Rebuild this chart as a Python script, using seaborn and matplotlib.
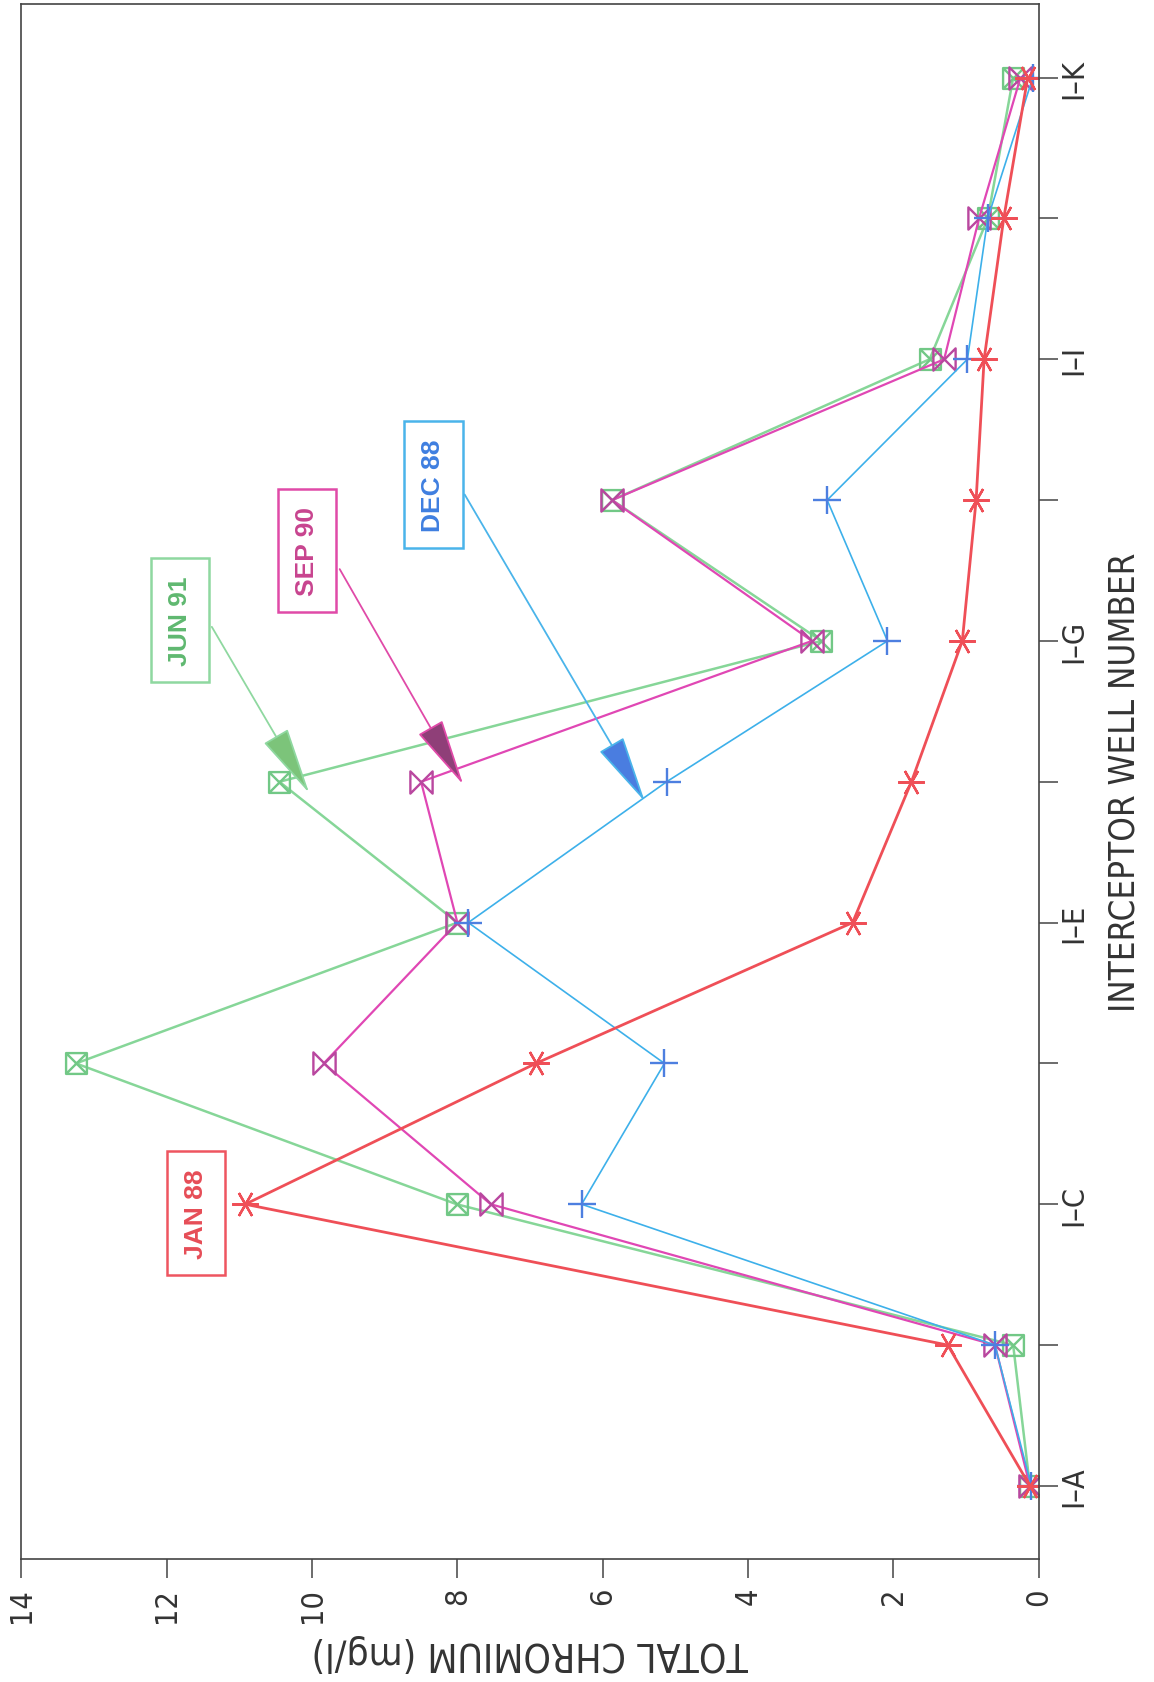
import numpy as np
import pandas as pd
import matplotlib
matplotlib.use("Agg")
import matplotlib.pyplot as plt
import seaborn as sns
from matplotlib.path import Path
from matplotlib import font_manager

# well positions along the interceptor line
wells = ["I-A", "I-B", "I-C", "I-D", "I-E", "I-F", "I-G", "I-H", "I-I", "I-J", "I-K"]
well_labels = ["I\u2013A", "", "I\u2013C", "", "I\u2013E", "", "I\u2013G", "", "I\u2013I", "", "I\u2013K"]

# total chromium (mg/l) per well
jan88 = [0.12, 1.25, 10.92, 6.92, 2.56, 1.75, 1.05, 0.86, 0.75, 0.48, 0.15]
dec88 = [0.10, 0.60, 6.29, 5.15, 7.85, 5.12, 2.08, 2.91, 0.98, 0.70, 0.08]
sep90 = [0.12, 0.60, 7.54, 9.84, 8.00, 8.50, 3.12, 5.87, 1.30, 0.82, 0.25]
jun91 = [0.12, 0.35, 8.01, 13.25, 8.00, 10.45, 2.99, 5.87, 1.50, 0.70, 0.35]

x_ticks = [0, 2, 4, 6, 8, 10, 12, 14]

fonts = font_manager.fontManager.ttflist
has_cond = any(f.name == "DejaVu Sans" and f.stretch == "condensed" for f in fonts)
plain = "Liberation Sans" if any(f.name == "Liberation Sans" for f in fonts) else "DejaVu Sans"

sns.set_style("white")
plt.rcParams["font.family"] = ["DejaVu Sans"]
if has_cond:
    plt.rcParams["font.stretch"] = "condensed"
    s_tick, s_xlab, s_ylab = 22, 28, 25
else:
    s_tick, s_xlab, s_ylab = 20, 25, 22.5

# custom markers: boxed X and bowtie
box_x = Path([(-1, -1), (1, -1), (1, 1), (-1, 1), (-1, -1), (-1, -1), (1, 1), (-1, 1), (1, -1)],
             [Path.MOVETO, Path.LINETO, Path.LINETO, Path.LINETO, Path.CLOSEPOLY,
              Path.MOVETO, Path.LINETO, Path.MOVETO, Path.LINETO])
bowtie = Path([(-1, -1), (-1, 1), (1, -1), (1, 1), (-1, -1)],
              [Path.MOVETO, Path.LINETO, Path.LINETO, Path.LINETO, Path.CLOSEPOLY])

series = [
    # name, values, line colour, marker, marker colour, line width, marker size
    ("JUN 91", jun91, "#86d698", box_x, "#72c886", 1.8, 15),
    ("SEP 90", sep90, "#e047b4", bowtie, "#b9479f", 1.6, 16),
    ("DEC 88", dec88, "#3db0ea", "+", "#4d7fe0", 1.2, 20),
    ("JAN 88", jan88, "#ef4f57", (6, 2, 90), "#ef4f57", 2.0, 19),
]

fig = plt.figure(figsize=(11.54, 16.83), dpi=100)
ax = fig.add_axes([0.0186, 0.073, 0.8814, 0.9238])

idx = np.arange(len(wells))
for name, vals, lc, mk, mc, lw, ms in series:
    df = pd.DataFrame({"chromium": vals, "well": idx})
    sns.lineplot(data=df, x="chromium", y="well", sort=False, estimator=None,
                 color=lc, lw=lw, marker=mk, markersize=ms,
                 markeredgecolor=mc, markerfacecolor="none", markeredgewidth=1.7, ax=ax)

# labelled boxes with pointer arrows
boxes = [
    ("JAN 88", (11.60, 1.94), "#e64d57", "#ee5560", None, None, None),
    ("JUN 91", (11.82, 6.15), "#5fb870", "#8fd8a0", (11.38, 6.10), (10.04, 4.92), "#7cc47a"),
    ("SEP 90", (10.07, 6.64), "#c8448f", "#e04aa8", (9.62, 6.51), (7.92, 4.98), "#8f3f78"),
    ("DEC 88", (8.33, 7.11), "#3f7fe0", "#4ab4ea", (7.90, 7.04), (5.42, 4.86), "#4a7de0"),
]
for txt, pos, tc, ec, start, tip, hc in boxes:
    ax.text(pos[0], pos[1], txt, rotation=90, ha="center", va="center",
            fontsize=19, fontweight="bold", color=tc, family=[plain, "DejaVu Sans"],
            fontstretch="normal",
            bbox=dict(boxstyle="square,pad=0.65", fc="white", ec=ec, lw=1.8))
    if start is not None:
        ax.annotate("", xy=tip, xytext=start,
                    arrowprops=dict(arrowstyle="-|>,head_length=2.9,head_width=0.6",
                                    mutation_scale=15, fc=hc, ec=ec, lw=1.3,
                                    shrinkA=0, shrinkB=0))

ax.set_xlim(14, 0)
ax.set_ylim(-0.52, 10.52)
ax.set_xticks(x_ticks)
ax.set_xticklabels([str(t) for t in x_ticks], rotation=90, fontsize=s_tick, color="#333333")
ax.yaxis.tick_right()
ax.set_yticks(idx)
ax.set_yticklabels(well_labels, rotation=90, fontsize=s_tick, color="#333333")
for lab in ax.get_yticklabels():
    lab.set_va("center")
ax.tick_params(axis="both", direction="out", length=14, width=1.1, color="#444444")
ax.tick_params(axis="x", bottom=True, pad=6)
ax.tick_params(axis="y", right=True, left=False, pad=1)

ax.yaxis.set_label_position("right")
ax.set_ylabel("INTERCEPTOR WELL NUMBER", rotation=90, fontsize=s_ylab, color="#333333", labelpad=14)
ax.set_xlabel("TOTAL CHROMIUM (mg/l)", rotation=180, fontsize=s_xlab, color="#333333", labelpad=8)

for sp in ax.spines.values():
    sp.set_visible(True)
    sp.set_color("#444444")
    sp.set_linewidth(1.2)

fig.savefig("out.png", dpi=100, facecolor="white")
